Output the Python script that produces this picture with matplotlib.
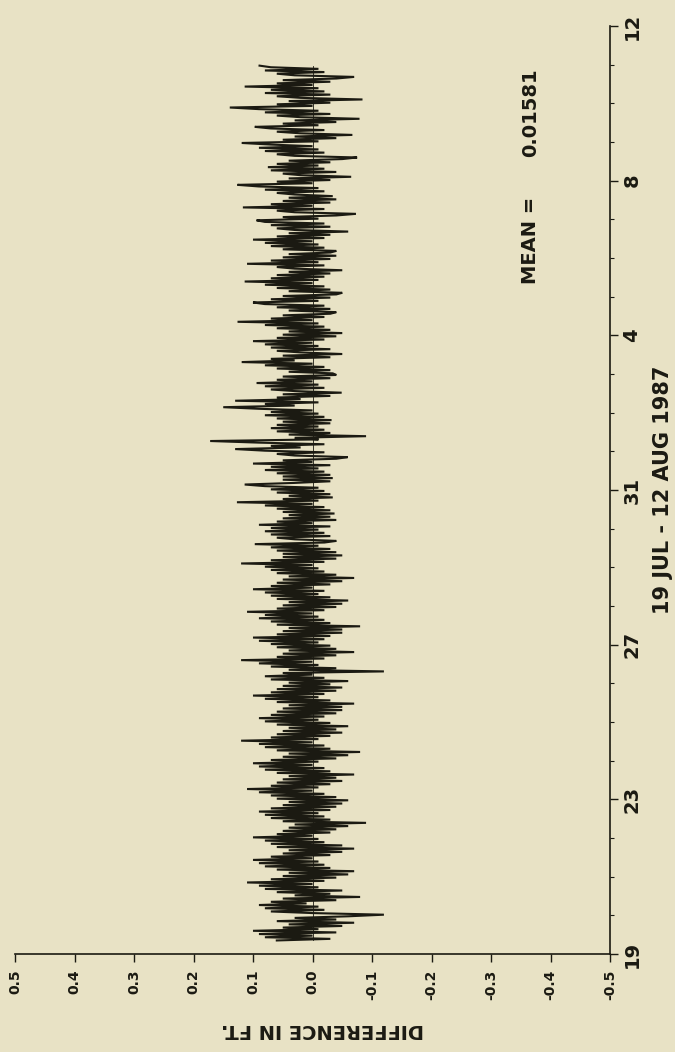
import numpy as np
import matplotlib
matplotlib.use('Agg')
import matplotlib.pyplot as plt
from matplotlib.ticker import MultipleLocator

## ----------- data ----------- ##

# hourly readings, first one ~0.35 day after 19 JUL 00:00
start_day = 0.35
step_hours = 1.0

# difference in ft, one row per day
diff_ft = [
    0.06, -0.03, 0.08, 0.00, 0.09, -0.04, 0.10, -0.01, 0.05, -0.05, 0.04, -0.07, 0.06, -0.04, 0.03, -0.06, -0.12, 0.00, 0.07, -0.02, 0.08, -0.01, 0.09, 0.01,
    0.07, -0.04, 0.05, -0.08, 0.03, -0.03, 0.06, -0.05, 0.08, -0.01, 0.09, 0.00, 0.11, -0.02, 0.07, -0.04, 0.05, -0.06, 0.04, -0.07, 0.06, -0.03, 0.08, -0.02,
    0.09, -0.01, 0.10, 0.00, 0.07, -0.03, 0.05, -0.05, 0.04, -0.07, 0.06, -0.05, 0.07, -0.02, 0.08, -0.01, 0.10, 0.00, 0.06, -0.03, 0.05, -0.04, 0.04, -0.06,
    0.03, -0.09, 0.05, -0.03, 0.07, -0.02, 0.08, -0.01, 0.09, -0.03, 0.07, -0.04, 0.05, -0.05, 0.04, -0.06, 0.06, -0.04, 0.07, -0.02, 0.09, 0.00, 0.11, -0.01,
    0.07, -0.03, 0.06, -0.05, 0.05, -0.04, 0.04, -0.07, 0.06, -0.03, 0.08, -0.02, 0.09, 0.00, 0.10, -0.01, 0.07, -0.04, 0.05, -0.06, 0.04, -0.08, 0.06, -0.03,
    0.08, -0.02, 0.09, 0.00, 0.12, -0.01, 0.07, -0.03, 0.06, -0.05, 0.05, -0.04, 0.04, -0.06, 0.06, -0.03, 0.08, -0.01, 0.09, -0.02, 0.07, -0.04, 0.06, -0.05,
    0.05, -0.05, 0.04, -0.07, 0.06, -0.03, 0.08, -0.01, 0.10, -0.02, 0.07, -0.04, 0.06, -0.05, 0.05, -0.03, 0.04, -0.06, 0.07, -0.02, 0.08, 0.00, 0.05, -0.12,
    0.04, -0.04, 0.07, -0.01, 0.09, 0.00, 0.12, -0.02, 0.06, -0.04, 0.05, -0.07, 0.04, -0.04, 0.06, -0.03, 0.07, -0.01, 0.09, -0.02, 0.10, -0.03, 0.06, -0.05,
    0.05, -0.05, 0.04, -0.08, 0.06, -0.03, 0.07, -0.02, 0.09, -0.01, 0.08, 0.00, 0.11, -0.02, 0.06, -0.04, 0.05, -0.05, 0.04, -0.06, 0.06, -0.03, 0.07, -0.01,
    0.08, -0.02, 0.10, 0.00, 0.07, -0.03, 0.06, -0.05, 0.05, -0.07, 0.04, -0.04, 0.06, -0.02, 0.07, -0.01, 0.08, 0.00, 0.12, -0.02, 0.07, -0.04, 0.05, -0.05,
    0.05, -0.04, 0.06, -0.03, 0.07, -0.01, 0.097, -0.02, -0.04, 0.03, 0.06, -0.03, 0.07, -0.02, 0.08, -0.01, 0.07, -0.03, 0.09, 0.00, 0.06, -0.04, 0.05, -0.03,
    0.04, -0.037, 0.05, -0.03, 0.06, -0.02, 0.08, 0.00, 0.127, -0.01, 0.05, -0.034, 0.04, -0.03, 0.06, -0.02, 0.07, -0.01, 0.08, 0.114, 0.03, -0.03, 0.05, -0.034,
    0.05, -0.03, 0.06, -0.02, 0.08, -0.01, 0.07, -0.03, 0.10, 0.00, 0.05, -0.04, -0.059, 0.03, 0.06, -0.02, 0.08, 0.13, 0.02, 0.07, -0.02, 0.09, 0.172, -0.01,
    0.03, -0.09, 0.04, -0.03, 0.06, -0.02, 0.07, -0.01, 0.06, -0.03, 0.05, -0.032, 0.06, -0.02, 0.08, -0.01, 0.07, 0.00, 0.09, 0.15, 0.03, 0.08, -0.01, 0.13,
    0.02, 0.06, -0.03, 0.05, -0.049, 0.03, 0.07, -0.02, 0.08, -0.01, 0.094, 0.00, 0.06, -0.03, 0.05, -0.04, -0.034, 0.04, -0.03, 0.06, -0.02, 0.08, 0.00, 0.119,
    0.03, 0.07, -0.03, 0.05, -0.05, 0.02, 0.06, -0.03, 0.07, -0.01, 0.08, 0.00, 0.10, -0.02, 0.06, -0.04, 0.05, -0.05, 0.04, -0.03, 0.06, -0.02, 0.08, -0.01,
    0.126, 0.00, 0.07, -0.02, 0.05, -0.03, -0.04, 0.04, -0.03, 0.06, -0.02, 0.08, 0.10, -0.01, 0.07, -0.03, 0.05, -0.04, -0.05, 0.04, -0.03, 0.06, -0.02, 0.08,
    0.00, 0.114, -0.01, 0.07, -0.02, 0.06, -0.03, 0.04, -0.05, 0.03, 0.06, -0.02, 0.11, -0.01, 0.07, -0.03, 0.05, -0.04, 0.04, -0.03, -0.04, 0.05, -0.02, 0.07,
    -0.01, 0.08, 0.00, 0.10, -0.02, 0.06, -0.03, 0.04, -0.06, 0.03, 0.06, -0.03, 0.07, -0.02, 0.08, 0.094, -0.01, 0.05, -0.04, -0.073, 0.03, 0.06, -0.02, 0.117,
    0.00, 0.07, -0.03, 0.05, -0.04, 0.04, -0.034, 0.03, 0.06, -0.02, 0.08, -0.01, 0.09, 0.126, 0.00, 0.06, -0.03, 0.04, -0.065, 0.02, 0.05, -0.04, 0.07, -0.02,
    0.075, -0.01, 0.06, -0.03, 0.04, -0.05, -0.075, 0.03, 0.06, -0.02, 0.08, -0.01, 0.09, 0.00, 0.07, 0.119, -0.01, 0.05, -0.04, 0.03, -0.067, 0.02, 0.06, -0.02,
    0.07, 0.097, -0.01, 0.05, -0.04, 0.03, -0.079, 0.02, 0.06, -0.03, 0.08, -0.01, 0.09, 0.139, 0.00, 0.06, -0.03, 0.04, -0.084, 0.02, 0.06, -0.03, 0.08, -0.02,
    0.07, -0.01, 0.114, 0.00, 0.06, -0.03, 0.05, -0.04, -0.07, 0.03, 0.06, -0.02, 0.08, -0.01, 0.07, 0.089,
]

day_ticks = [0, 4, 8, 12, 16, 20, 24]
day_labels = ['19', '23', '27', '31', '4', '8', '12']

ft_ticks = [0.5, 0.4, 0.3, 0.2, 0.1, 0.0, -0.1, -0.2, -0.3, -0.4, -0.5]
ft_labels = ['0.5', '0.4', '0.3', '0.2', '0.1', '0.0', '-0.1', '-0.2', '-0.3', '-0.4', '-0.5']

period_text = '19 JUL - 12 AUG 1987'
axis_text = 'DIFFERENCE IN FT.'
mean_value = '0.01581'

## ----------- style ----------- ##

paper = '#e8e2c5'
ink = '#1b1a12'

plt.rcParams['font.family'] = ['DejaVu Sans']
plt.rcParams['font.weight'] = 'bold'

W, H = 675, 1052
fig = plt.figure(figsize=(W / 100, H / 100), dpi=100, facecolor=paper)

# page is turned: time runs up, difference runs right-to-left
ax = fig.add_axes([15 / W, 1 - 954 / H, 595 / W, 928 / H])
ax.set_facecolor(paper)

diff = np.array(diff_ft)
days = start_day + np.arange(len(diff)) * step_hours / 24.0

# heavy pen, the trace reads as a dark band
ax.plot(diff, days, color=ink, lw=1.5, solid_joinstyle='miter')
ax.plot([0, 0], [days[0], days[-1]], color=ink, lw=0.6)

ax.set_xlim(0.5, -0.5)
ax.set_ylim(0, 24)

for side in ['top', 'left']:
    ax.spines[side].set_visible(False)
for side in ['bottom', 'right']:
    ax.spines[side].set_color(ink)
    ax.spines[side].set_linewidth(1.2)

# time axis on the right
ax.yaxis.tick_right()
ax.set_yticks(day_ticks)
ax.set_yticklabels(day_labels, rotation=90, va='center', fontsize=14,
                   fontweight='bold', color=ink)
ax.yaxis.set_minor_locator(MultipleLocator(1))
ax.tick_params(axis='y', which='major', direction='out', length=6, width=1,
               pad=3, color=ink)
ax.tick_params(axis='y', which='minor', direction='out', length=3, width=0.8,
               color=ink)

# difference axis at the bottom
ax.set_xticks(ft_ticks)
ax.set_xticklabels(ft_labels, rotation=90, fontsize=10, fontweight='bold',
                   color=ink)
ax.tick_params(axis='x', which='major', direction='out', length=6, width=1,
               pad=5, color=ink)

fig.text(663 / W, 1 - 490 / H, period_text, rotation=90, ha='center',
         va='center', fontsize=15, fontweight='bold', color=ink)
fig.text(322 / W, 1 - 1030 / H, axis_text, rotation=180, ha='center',
         va='center', fontsize=14, fontweight='bold', color=ink)
fig.text(531 / W, 1 - 240 / H, 'MEAN =', rotation=90, ha='center',
         va='center', fontsize=14, fontweight='bold', color=ink)
fig.text(531 / W, 1 - 113 / H, mean_value, rotation=90, ha='center',
         va='center', fontsize=14, fontweight='bold', color=ink)

fig.savefig('out.png', dpi=100, facecolor=paper)
